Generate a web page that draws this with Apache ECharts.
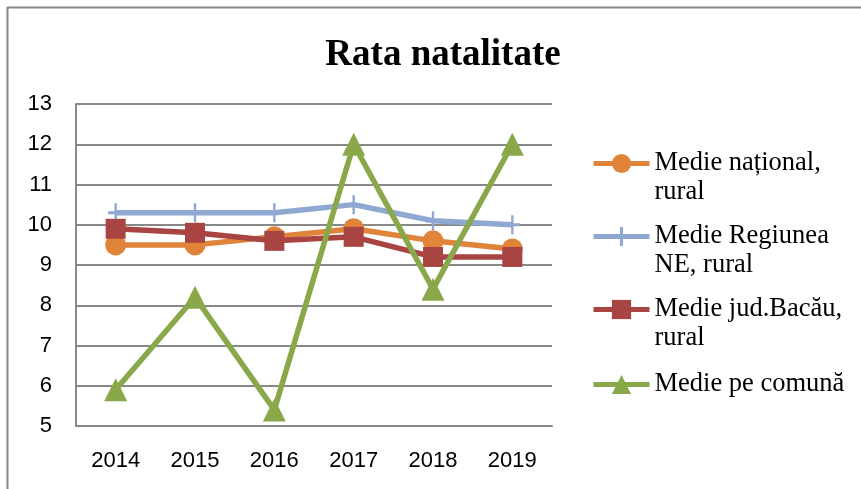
<!DOCTYPE html>
<html>
<head>
<meta charset="utf-8">
<script src="https://cdn.jsdelivr.net/npm/echarts@6/dist/echarts.min.js"></script>
<style>
html,body{margin:0;padding:0;background:#fff;}
#chart{width:861px;height:489px;}
</style>
</head>
<body>
<div id="chart"></div>
<script>
const years = ['2014','2015','2016','2017','2018','2019'];
const seriesNames = ['Medie național, rural','Medie Regiunea NE, rural','Medie jud.Bacău, rural','Medie pe comună'];
const legendLabels = [' \nMedie național,\nrural',' \nMedie Regiunea\nNE, rural',' \nMedie jud.Bacău,\nrural','Medie pe comună'];
const national = [9.5, 9.5, 9.7, 9.9, 9.6, 9.4];
const regiuneaNE = [10.3, 10.3, 10.3, 10.5, 10.1, 10.0];
const bacau = [9.9, 9.8, 9.6, 9.7, 9.2, 9.2];
const comuna = [5.9, 8.2, 5.4, 12.0, 8.4, 12.0];
const yTicks = {min: 5, max: 13, interval: 1};

const colors = ['#E0843A', '#8FA8D2', '#A84442', '#88A84A'];
const plusPath = 'path://M4.2,0 H5.8 V10 H4.2 Z M0,4.2 H10 V5.8 H0 Z';
const symbols = ['circle', plusPath, 'rect', 'triangle'];
const symbolSizes = [21, [15, 19], 20, 23];
const values = [national, regiuneaNE, bacau, comuna];
const legendTops = [115, 188, 261, 365];

const chart = echarts.init(document.getElementById('chart'), null, {renderer: 'canvas'});
const option = {
  animation: false,
  backgroundColor: '#fff',
  title: {
    text: 'Rata natalitate',
    left: 438, textAlign: 'center', top: 32,
    textStyle: {fontFamily: 'Liberation Serif', fontWeight: 'bold', fontSize: 37, color: '#000'}
  },
  graphic: [{
    type: 'rect', shape: {x: 7.5, y: 7.5, width: 900, height: 600},
    style: {fill: 'none', stroke: '#888', lineWidth: 2}, silent: true
  }],
  legend: seriesNames.map((n, i) => ({
    data: [n], left: 586, top: legendTops[i], orient: 'vertical',
    itemWidth: 56, itemHeight: 24, itemGap: 0,
    formatter: () => legendLabels[i],
    lineStyle: {width: 5},
    textStyle: {fontFamily: 'Liberation Serif', fontSize: 26.5, color: '#000', lineHeight: 29},
    selectedMode: false
  })),
  grid: {left: 76, right: 309, top: 104, bottom: 63, containLabel: false},
  xAxis: {
    type: 'category', data: years, boundaryGap: true,
    axisLine: {lineStyle: {color: '#888', width: 2}},
    axisTick: {show: false},
    axisLabel: {fontFamily: 'Liberation Sans', fontSize: 22, color: '#000', margin: 24}
  },
  yAxis: {
    type: 'value', min: yTicks.min, max: yTicks.max, interval: yTicks.interval,
    axisLine: {show: true, lineStyle: {color: '#888', width: 2}},
    axisTick: {show: false},
    splitLine: {lineStyle: {color: '#888', width: 2}},
    axisLabel: {fontFamily: 'Liberation Sans', fontSize: 22, color: '#000', margin: 24}
  },
  series: seriesNames.map((n, i) => ({
    name: n, type: 'line', data: values[i],
    symbol: symbols[i], symbolSize: symbolSizes[i], showAllSymbol: true,
    itemStyle: {color: colors[i]},
    lineStyle: {color: colors[i], width: 5.5},
    z: 2 + i
  }))
};
chart.setOption(option);
</script>
</body>
</html>
